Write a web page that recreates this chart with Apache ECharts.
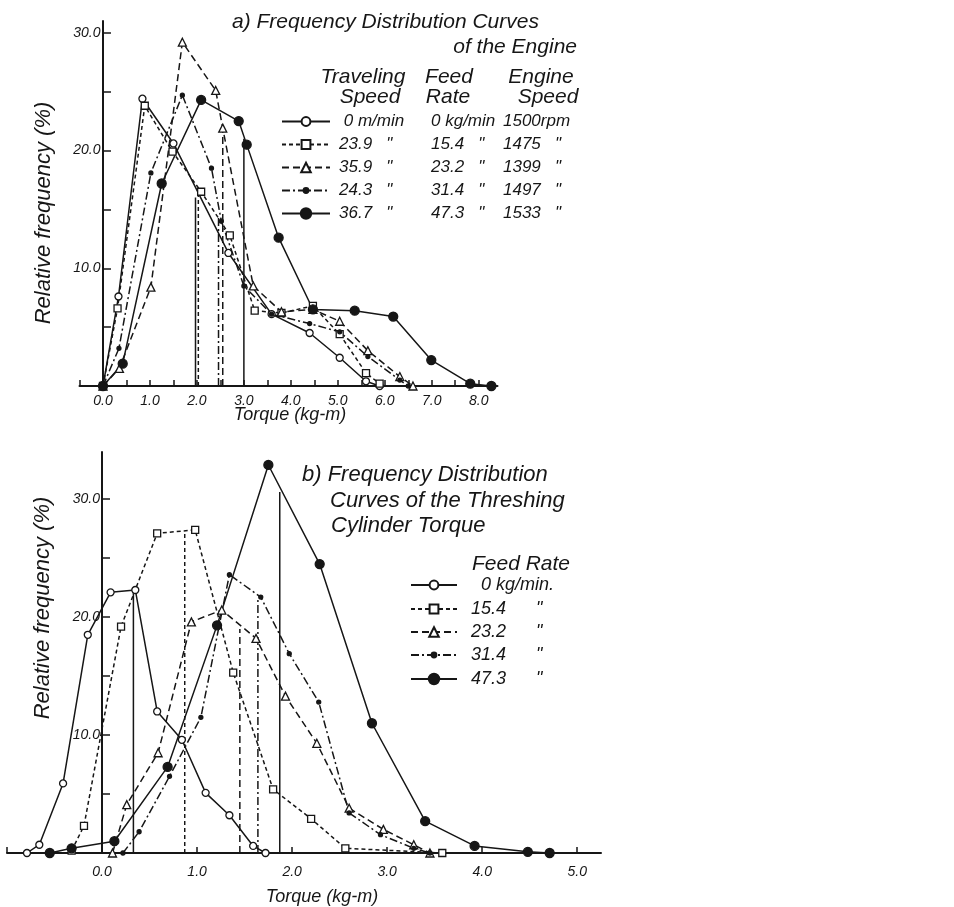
<!DOCTYPE html>
<html>
<head>
<meta charset="utf-8">
<script src="https://cdn.jsdelivr.net/npm/echarts@6/dist/echarts.min.js"></script>
<style>
  html, body { margin: 0; padding: 0; background: #fff; }
  #chart { width: 954px; height: 907px; }
</style>
</head>
<body>
<div id="chart"></div>
<script>
// (a) engine torque - [torque kg-m, relative frequency %]
var engine0 = [[0,0],[0.33,7.6],[0.84,24.4],[1.5,20.6],[2.67,11.3],[3.59,6.1],[4.40,4.5],[5.04,2.4],[5.6,0.4],[5.89,0]];
var engine15 = [[0,0],[0.31,6.6],[0.89,23.8],[1.48,19.9],[2.09,16.5],[2.70,12.8],[3.23,6.4],[3.80,6.2],[4.47,6.8],[5.04,4.4],[5.6,1.1],[5.89,0.2]];
var engine23 = [[0,0],[0.35,1.5],[1.02,8.4],[1.69,29.2],[2.40,25.1],[2.55,21.9],[3.2,8.5],[3.8,6.3],[4.47,6.5],[5.04,5.5],[5.64,3.0],[6.32,0.8],[6.6,0]];
var engine31 = [[0,0],[0.34,3.2],[1.02,18.1],[1.69,24.7],[2.31,18.5],[2.52,14.0],[3.0,8.5],[3.59,6.1],[4.4,5.3],[5.04,4.6],[5.64,2.5],[6.32,0.5],[6.5,0]];
var engine47 = [[0,0],[0.42,1.9],[1.25,17.2],[2.09,24.3],[2.89,22.5],[3.06,20.5],[3.74,12.6],[4.47,6.5],[5.36,6.4],[6.18,5.9],[6.99,2.2],[7.82,0.2],[8.27,0]];
// mean torque marks: [torque, height of the drop line]
var engineMeans = [[1.97,16.0],[2.03,16.8],[2.55,21.9],[2.46,14.5],[3.0,21.0]];

// (b) threshing cylinder torque
var cyl0 = [[-0.79,0],[-0.66,0.7],[-0.41,5.9],[-0.15,18.5],[0.09,22.1],[0.35,22.3],[0.58,12.0],[0.84,9.6],[1.09,5.1],[1.34,3.2],[1.59,0.6],[1.72,0]];
var cyl15 = [[-0.32,0.2],[-0.19,2.3],[0.20,19.2],[0.58,27.1],[0.98,27.4],[1.38,15.3],[1.80,5.4],[2.20,2.9],[2.56,0.4],[3.58,0]];
var cyl23 = [[0.11,0],[0.26,4.1],[0.59,8.5],[0.94,19.6],[1.26,20.6],[1.62,18.2],[1.93,13.3],[2.26,9.3],[2.60,3.8],[2.96,2.0],[3.28,0.7],[3.45,0]];
var cyl31 = [[0.22,0],[0.39,1.8],[0.71,6.5],[1.04,11.5],[1.34,23.6],[1.67,21.7],[1.97,16.9],[2.28,12.8],[2.60,3.4],[2.93,1.55],[3.28,0.4],[3.45,0]];
var cyl47 = [[-0.55,0],[-0.32,0.4],[0.13,1.0],[0.69,7.3],[1.21,19.3],[1.75,32.9],[2.29,24.5],[2.84,11.0],[3.40,2.7],[3.92,0.6],[4.48,0.1],[4.71,0]];
var cylMeans = [[0.33,22.2],[0.87,27.3],[1.45,19.0],[1.64,21.7],[1.87,30.6]];

var engineLegend = [
  [' 0 m/min', '0 kg/min', '1500rpm'],
  ['23.9   "', '15.4   "', '1475   "'],
  ['35.9   "', '23.2   "', '1399   "'],
  ['24.3   "', '31.4   "', '1497   "'],
  ['36.7   "', '47.3   "', '1533   "']
];
var cylLegend = ['0 kg/min.', '15.4      "', '23.2      "', '31.4      "', '47.3      "'];

var ink = '#161616';
var font = 'Liberation Sans';
// line style + marker for each feed rate (0, 15.4, 23.2, 31.4, 47.3 kg/min)
var styles = [
  {type: 'solid', symbol: 'circle', size: 7, fill: '#fff', icon: 11},
  {type: [4, 3], symbol: 'rect', size: 7, fill: '#fff', icon: 11},
  {type: [7, 4], symbol: 'triangle', size: 8, fill: '#fff', icon: 12},
  {type: [8, 3, 2, 3], symbol: 'circle', size: 4, fill: ink, icon: 6},
  {type: 'solid', symbol: 'circle', size: 9, fill: ink, icon: 13}
];

function curve(name, data, idx, k) {
  var s = styles[k];
  return {
    name: name, type: 'line', xAxisIndex: idx, yAxisIndex: idx,
    data: data, symbol: s.symbol, symbolSize: s.size, showSymbol: true,
    lineStyle: {color: ink, width: 1.5, type: s.type},
    itemStyle: {color: s.fill, borderColor: ink, borderWidth: 1.3},
    animation: false, z: 3
  };
}
function meanLine(m, idx, k) {
  return {
    type: 'line', xAxisIndex: idx, yAxisIndex: idx, symbol: 'none',
    data: [[m[0], 0], [m[0], m[1]]],
    lineStyle: {color: ink, width: 1.5, type: styles[k].type},
    animation: false, silent: true, z: 2
  };
}

var series = [];
var engineSets = [engine0, engine15, engine23, engine31, engine47];
var cylSets = [cyl0, cyl15, cyl23, cyl31, cyl47];
engineSets.forEach(function (d, k) { series.push(curve('a' + k, d, 0, k)); });
cylSets.forEach(function (d, k) { series.push(curve('b' + k, d, 1, k)); });
engineMeans.forEach(function (m, k) { series.push(meanLine(m, 0, k)); });
cylMeans.forEach(function (m, k) { series.push(meanLine(m, 1, k)); });

var labelStyle = {color: ink, fontFamily: font, fontStyle: 'italic', fontSize: 14};

function xAxis(idx, min, max, interval, margin) {
  return {
    type: 'value', gridIndex: idx, min: min, max: max, interval: interval,
    splitLine: {show: false},
    axisLine: {lineStyle: {color: ink, width: 2}},
    axisTick: {inside: true, length: 6, lineStyle: {color: ink, width: 1.5}},
    axisLabel: Object.assign({
      margin: margin, showMaxLabel: false,
      formatter: function (v) {
        return (Math.abs(v - Math.round(v)) < 1e-6 && v >= 0) ? v.toFixed(1) : '';
      }
    }, labelStyle)
  };
}
function yAxis(idx, max, margin) {
  return {
    type: 'value', gridIndex: idx, min: 0, max: max, interval: 5,
    splitLine: {show: false},
    axisLine: {lineStyle: {color: ink, width: 2}},
    axisTick: {inside: true, length: 8, lineStyle: {color: ink, width: 1.5}},
    axisLabel: Object.assign({
      margin: margin, showMaxLabel: false,
      formatter: function (v) { return (v > 0 && v % 10 === 0) ? v.toFixed(1) : ''; }
    }, labelStyle)
  };
}

// one legend per row so each row keeps its own marker size
function rowLegend(prefix, k, left, center, width, text, rich) {
  return {
    data: [prefix + k], left: left, top: center - 7,
    itemWidth: width, itemHeight: styles[k].icon, padding: 0,
    formatter: function () { return text; },
    textStyle: {rich: rich, padding: [0, 0, 0, 4]}
  };
}

var richA = {
  a: {width: 92, fontFamily: font, fontStyle: 'italic', fontSize: 17, color: ink},
  b: {width: 72, fontFamily: font, fontStyle: 'italic', fontSize: 17, color: ink},
  c: {fontFamily: font, fontStyle: 'italic', fontSize: 17, color: ink}
};
var richB = {
  a: {fontFamily: font, fontStyle: 'italic', fontSize: 18, color: ink}
};

var legends = [];
var rowsA = [120, 143, 166, 189, 212];
var rowsB = [583, 607, 630, 653, 677];
engineLegend.forEach(function (r, k) {
  legends.push(rowLegend('a', k, 281, rowsA[k], 48,
    '{a|' + r[0] + '}{b|' + r[1] + '}{c|' + r[2] + '}', richA));
});
cylLegend.forEach(function (r, k) {
  legends.push(rowLegend('b', k, 410, rowsB[k], 46,
    '{a|' + (k === 0 ? '   ' : ' ') + r + '}', richB));
});

function txt(x, y, s, size, align) {
  return {
    type: 'text', x: x, y: y,
    style: {text: s, fill: ink, font: 'italic ' + size + 'px "' + font + '"',
      align: align || 'left', verticalAlign: 'middle',
      textAlign: align || 'left', textVerticalAlign: 'middle'}
  };
}
function vtxt(x, y, s, size) {
  var t = txt(x, y, s, size, 'center');
  t.rotation = Math.PI / 2;
  return t;
}

var chart = echarts.init(document.getElementById('chart'));
chart.setOption({
  backgroundColor: '#fff',
  animation: false,
  grid: [
    {left: 79.5, top: 21, width: 418, height: 365, outerBoundsMode: 'none', containLabel: false},
    {left: 7, top: 452, width: 594, height: 401, outerBoundsMode: 'none', containLabel: false}
  ],
  xAxis: [xAxis(0, -0.5, 8.4, 0.5, 8), xAxis(1, -1, 5.25, 1, 12)],
  yAxis: [yAxis(0, 31, -21), yAxis(1, 34, -93)],
  legend: legends,
  graphic: [
    txt(232, 22, 'a) Frequency Distribution Curves', 21),
    txt(577, 47, 'of the Engine', 21, 'right'),
    txt(363, 77, 'Traveling', 21, 'center'),
    txt(370, 97, 'Speed', 21, 'center'),
    txt(449, 77, 'Feed', 21, 'center'),
    txt(448, 97, 'Rate', 21, 'center'),
    txt(541, 77, 'Engine', 21, 'center'),
    txt(548, 97, 'Speed', 21, 'center'),
    txt(302, 475, 'b) Frequency Distribution', 22),
    txt(330, 501, 'Curves of the Threshing', 22),
    txt(331, 526, 'Cylinder Torque', 22),
    txt(521, 564, 'Feed Rate', 21, 'center'),
    txt(290, 415, 'Torque (kg-m)', 18, 'center'),
    txt(322, 897, 'Torque (kg-m)', 18, 'center'),
    vtxt(44, 213, 'Relative frequency (%)', 22),
    vtxt(43, 608, 'Relative frequency (%)', 22)
  ],
  series: series
});
</script>
</body>
</html>
